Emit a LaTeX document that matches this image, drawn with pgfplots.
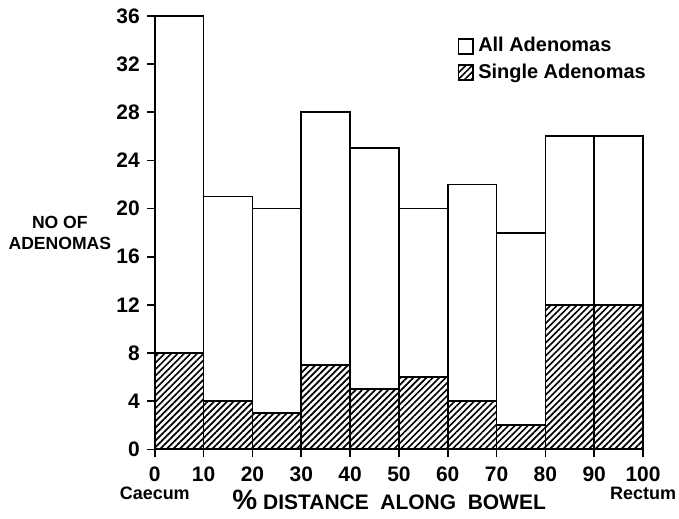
\documentclass[border=0pt]{standalone}
\usepackage{fontspec}
\setmainfont{Liberation Sans}
\usepackage{pgfplots}
\pgfplotsset{compat=1.18}
\usetikzlibrary{patterns.meta}

\begin{document}
\bfseries
\begin{tikzpicture}
\begin{axis}[
    scale only axis,
    width=244.5pt, height=217pt,
    xmin=0, xmax=100, ymin=0, ymax=36,
    axis x line=bottom, axis y line=left,
    axis line style={-, line width=1pt},
    xtick={0,10,...,100}, ytick={0,4,...,36},
    tick align=outside, major tick length=4pt,
    tick style={line width=0.8pt, black},
    /pgf/number format/assume math mode=true,
    tick label style={font=\fontsize{10.5}{11}\selectfont\bfseries},
    xticklabel style={yshift=-1pt},
    ylabel={NO OF\\ADENOMAS},
    every axis y label/.style={at={(axis description cs:-0.075,0.5)}, anchor=east,
        align=center, font=\fontsize{8.8}{10.5}\selectfont\bfseries},
    xlabel={{\fontsize{14}{14}\selectfont\%} DISTANCE\ \ ALONG\ \ BOWEL},
    every axis x label/.style={at={(axis description cs:0.48,0)}, anchor=north, yshift=-17pt,
        font=\fontsize{10.5}{11}\selectfont\bfseries},
    legend style={at={(axis description cs:0.62,0.96)}, anchor=north west, draw=none, fill=none,
        font=\fontsize{10}{11}\selectfont\bfseries, row sep=0.5pt,
        inner sep=0pt, outer sep=0pt},
    legend cell align=left,
    legend image code/.code={\draw[#1, line width=0.9pt] (0pt,-3.8pt) rectangle (7.5pt,3.7pt);},
    clip=false,
]
\addplot[ybar interval, fill=white, draw=black, line width=0.9pt]
coordinates {
    (0,36) (10,21) (20,20) (30,28) (40,25) (50,20) (60,22) (70,18) (80,26) (90,26) (100,26)
};
\addlegendentry{All Adenomas}
\addplot[ybar interval, draw=black, line width=0.9pt,
    pattern={Lines[angle=45, distance=2.3pt, line width=0.85pt]}]
coordinates {
    (0,8) (10,4) (20,3) (30,7) (40,5) (50,6) (60,4) (70,2) (80,12) (90,12) (100,12)
};
\addlegendentry{Single Adenomas}
\node[font=\fontsize{9}{10}\selectfont\bfseries, anchor=north] at (axis cs:0,0) [yshift=-15.5pt] {Caecum};
\node[font=\fontsize{9}{10}\selectfont\bfseries, anchor=north] at (axis cs:100,0) [yshift=-15.5pt] {Rectum};
\coordinate (bl) at (rel axis cs:0,0);
\coordinate (tr) at (rel axis cs:1,1);
\end{axis}
\pgfresetboundingbox
\path ([shift={(-77.5pt,-34.5pt)}]bl) rectangle ([shift={(18pt,8pt)}]tr);
\end{tikzpicture}
\end{document}
